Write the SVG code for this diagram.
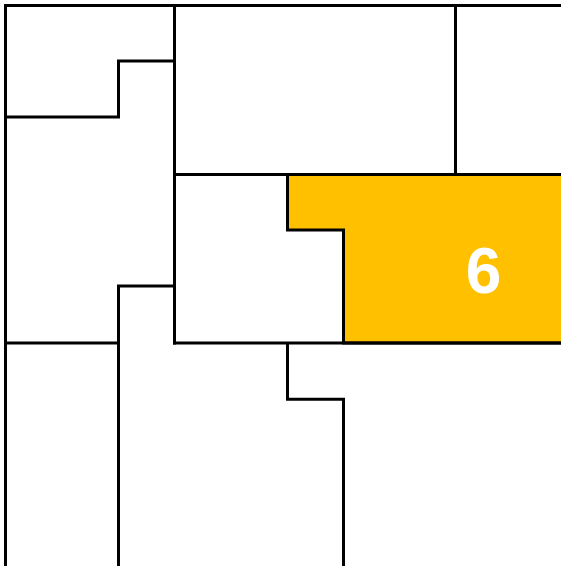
<svg xmlns="http://www.w3.org/2000/svg" width="561" height="566" viewBox="0 0 561 566">
<style>
.w{fill:none;stroke:#000;stroke-width:3;stroke-linecap:butt;stroke-linejoin:miter}
.hl{fill:#FFC000;stroke:#000;stroke-width:3}
.lbl{font-family:"Liberation Sans",Arial,sans-serif;font-weight:bold;font-size:64px;fill:#fff;text-anchor:middle}
</style>
<rect x="0" y="0" width="561" height="566" fill="#fff"/>
<g id="room6">
<polygon class="hl" points="287.5,174.5 563,174.5 563,343 343.5,343 343.5,230 287.5,230"/>
<text class="lbl" x="483.5" y="293">6</text>
</g>
<g id="walls">
<path class="w" d="M4 5.5H561M5.5 4V566"/>
<path class="w" d="M174.5 5.5V344.5"/>
<path class="w" d="M455.5 5.5V174.5"/>
<path class="w" d="M176 61H118.5V117H4"/>
<path class="w" d="M173 174.5H561"/>
<path class="w" d="M176 286H118.5V566"/>
<path class="w" d="M4 343H120"/>
<path class="w" d="M173 343H561"/>
<path class="w" d="M287.5 343V399.3H343.5V566"/>
</g>
</svg>
